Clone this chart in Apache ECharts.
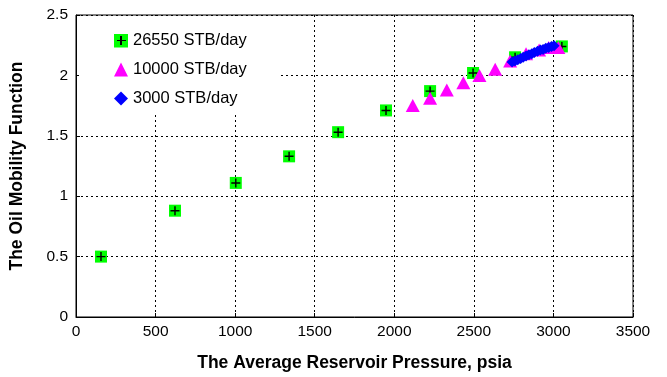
<!DOCTYPE html>
<html>
<head>
<meta charset="utf-8">
<script src="https://cdn.jsdelivr.net/npm/echarts@6/dist/echarts.min.js"></script>
<style>
  html, body { margin: 0; padding: 0; background: #fff; }
  #main { width: 667px; height: 377px; }
</style>
</head>
<body>
<div id="main"></div>
<script>
// rate 26550 STB/day: [pressure psia, oil mobility function]
const rateHigh = [
  [157, 0.50], [622, 0.88], [1004, 1.11], [1339, 1.33], [1647, 1.53],
  [1948, 1.71], [2225, 1.87], [2495, 2.02], [2759, 2.15], [3053, 2.24]
];
const rateMid = [
  [2116, 1.75], [2225, 1.81], [2330, 1.88], [2434, 1.94], [2535, 2.00],
  [2634, 2.05], [2728, 2.12], [2828, 2.18], [2910, 2.21], [2970, 2.23], [3031, 2.23]
];
const rateLow = [
  [2740, 2.11], [2758, 2.12], [2776, 2.13], [2794, 2.14], [2810, 2.15],
  [2828, 2.16], [2846, 2.17], [2864, 2.18], [2880, 2.19], [2900, 2.20],
  [2918, 2.21], [2935, 2.215], [2952, 2.225], [2970, 2.23], [2988, 2.24], [3004, 2.245]
];
const seriesNames = ['26550 STB/day', '10000 STB/day', '3000 STB/day'];

const chart = echarts.init(document.getElementById('main'));

// legend icon: green square with a black plus
const plusSquare = 'image://data:image/svg+xml;utf8,' + encodeURIComponent(
  "<svg xmlns='http://www.w3.org/2000/svg' width='14' height='14' shape-rendering='crispEdges'>" +
  "<rect width='14' height='14' fill='#00ff00'/>" +
  "<path d='M7 2.5V11.5M2.5 7H11.5' stroke='#000' stroke-width='1.4'/></svg>"
);
const plusPath = 'path://M4.2 0H5.8V4.2H10V5.8H5.8V10H4.2V5.8H0V4.2H4.2Z';

const font = 'Liberation Sans, Arial, sans-serif';

const option = {
  backgroundColor: '#fff',
  animation: false,
  grid: {
    left: 76, right: 34, top: 15, bottom: 59,
    show: true, borderColor: '#000', borderWidth: 1
  },
  legend: {
    orient: 'vertical',
    left: 79, top: 16,
    padding: [16, 34, 8, 35],
    backgroundColor: '#fff',
    itemWidth: 14, itemHeight: 14, itemGap: 12,
    textStyle: { fontFamily: font, fontSize: 16.5, color: '#000', lineHeight: 17 },
    data: [
      { name: seriesNames[0], icon: plusSquare },
      { name: seriesNames[1] },
      { name: seriesNames[2] }
    ]
  },
  xAxis: {
    type: 'value', min: 0, max: 3500, interval: 500,
    name: 'The Average Reservoir Pressure, psia',
    nameLocation: 'middle', nameGap: 37,
    nameTextStyle: { fontFamily: font, fontSize: 17.5, fontWeight: 'bold', color: '#000' },
    axisLine: { lineStyle: { color: '#000' } },
    axisTick: { inside: true, length: 4, lineStyle: { color: '#000' } },
    axisLabel: {
      fontFamily: font, fontSize: 15.5, color: '#000', margin: 7,
      formatter: (v) => String(v)
    },
    splitLine: { lineStyle: { color: '#000', type: [2, 3] } }
  },
  yAxis: {
    type: 'value', min: 0, max: 2.5, interval: 0.5,
    name: 'The Oil Mobility Function',
    nameLocation: 'middle', nameGap: 50,
    nameTextStyle: { fontFamily: font, fontSize: 17.5, fontWeight: 'bold', color: '#000' },
    axisLine: { show: true, lineStyle: { color: '#000' } },
    axisTick: { show: true, inside: true, length: 4, lineStyle: { color: '#000' } },
    axisLabel: { fontFamily: font, fontSize: 15.5, color: '#000', margin: 8 },
    splitLine: { lineStyle: { color: '#000', type: [2, 3] } }
  },
  series: [
    {
      name: seriesNames[0], type: 'scatter', data: rateHigh,
      symbol: 'rect', symbolSize: 12, z: 2,
      itemStyle: { color: '#00ff00', opacity: 1 }
    },
    {
      name: seriesNames[0], type: 'scatter', data: rateHigh,
      symbol: plusPath, symbolSize: 9, z: 2,
      itemStyle: { color: '#000', opacity: 1 }
    },
    {
      name: seriesNames[1], type: 'scatter', data: rateMid,
      symbol: 'triangle', symbolSize: [14, 13], z: 3,
      itemStyle: { color: '#ff00ff', opacity: 1 }
    },
    {
      name: seriesNames[2], type: 'scatter', data: rateLow,
      symbol: 'diamond', symbolSize: 11, z: 4,
      itemStyle: { color: '#0000ff', opacity: 1 }
    }
  ]
};

chart.setOption(option);
</script>
</body>
</html>
